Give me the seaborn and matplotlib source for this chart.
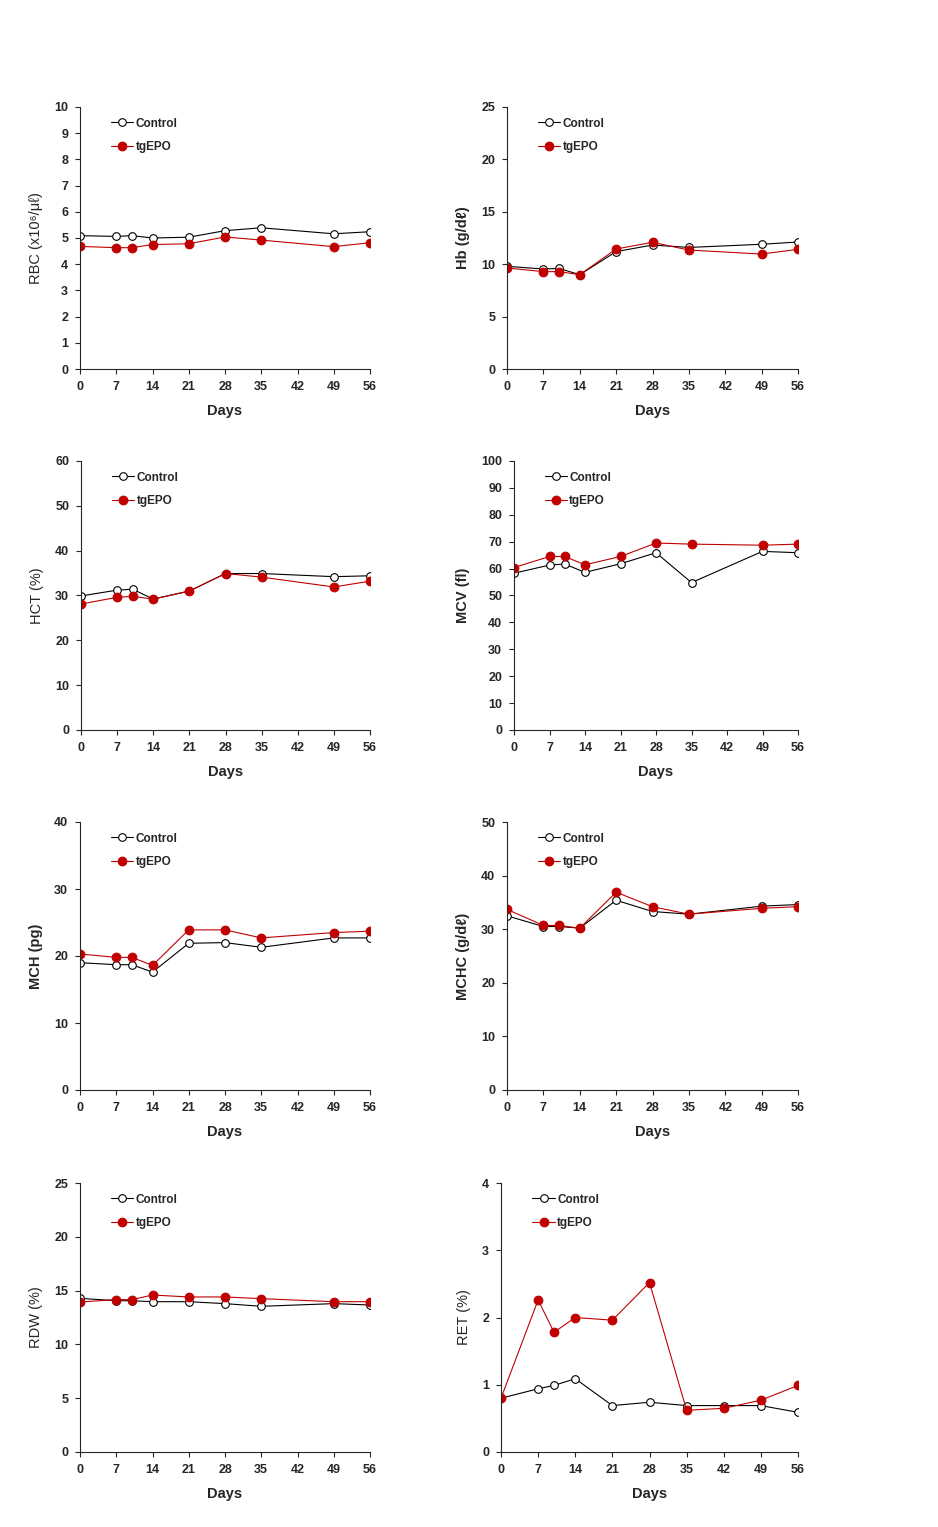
import matplotlib
matplotlib.use('Agg')
import matplotlib.pyplot as plt
import seaborn as sns

sns.set_style('ticks')
plt.rcParams['font.family'] = ['Liberation Sans', 'DejaVu Sans']

days = [0, 7, 10, 14, 21, 28, 35, 49, 56]
days_ret = [0, 7, 10, 14, 21, 28, 35, 42, 49, 56]
day_ticks = [0, 7, 14, 21, 28, 35, 42, 49, 56]

rbc_control = [5.09, 5.06, 5.09, 5.00, 5.03, 5.28, 5.39, 5.16, 5.24]
rbc_tgepo = [4.68, 4.63, 4.63, 4.75, 4.78, 5.04, 4.92, 4.67, 4.82]

hb_control = [9.8, 9.54, 9.6, 9.0, 11.2, 11.83, 11.6, 11.9, 12.12]
hb_tgepo = [9.64, 9.29, 9.29, 9.0, 11.45, 12.09, 11.35, 10.97, 11.42]

hct_control = [29.9, 31.2, 31.4, 29.2, 31.0, 34.9, 34.9, 34.2, 34.4]
hct_tgepo = [28.1, 29.6, 29.8, 29.2, 31.0, 34.9, 34.1, 31.9, 33.2]

mcv_control = [58.3, 61.3, 61.7, 58.6, 61.8, 65.9, 54.8, 66.4, 65.9]
mcv_tgepo = [60.4, 64.5, 64.5, 61.4, 64.5, 69.5, 69.1, 68.7, 69.1]

mch_control = [19.0, 18.7, 18.7, 17.6, 21.9, 22.0, 21.3, 22.7, 22.7]
mch_tgepo = [20.3, 19.8, 19.8, 18.6, 23.9, 23.9, 22.7, 23.5, 23.7]

mchc_control = [32.5, 30.5, 30.5, 30.2, 35.4, 33.3, 32.8, 34.3, 34.6]
mchc_tgepo = [33.7, 30.7, 30.7, 30.2, 36.9, 34.2, 32.8, 33.9, 34.2]

rdw_control = [14.28, 14.06, 14.06, 13.97, 13.97, 13.79, 13.54, 13.79, 13.66]
rdw_tgepo = [13.94, 14.16, 14.16, 14.59, 14.41, 14.41, 14.25, 13.97, 13.97]

ret_control = [0.80, 0.94, 0.99, 1.09, 0.69, 0.74, 0.69, 0.69, 0.69, 0.59]
ret_tgepo = [0.80, 2.26, 1.78, 2.00, 1.96, 2.52, 0.62, 0.65, 0.77, 0.99]

W, H = 938, 1527
red = '#c00000'

fig = plt.figure(figsize=(W / 100, H / 100), dpi=100)


def panel(box, x, ctrl, tg, ylabel, ymax, ystep, label_bold):
    left, top, right, bottom = box
    ax = fig.add_axes([left / W, 1 - bottom / H, (right - left) / W, (bottom - top) / H])
    sns.lineplot(x=x, y=ctrl, ax=ax, color='black', linewidth=0.8, marker='o',
                 markersize=5.5, markerfacecolor='white', markeredgecolor='black',
                 markeredgewidth=0.8, label='Control')
    sns.lineplot(x=x, y=tg, ax=ax, color=red, linewidth=0.8, marker='o',
                 markersize=6.3, markerfacecolor=red, markeredgecolor=red, label='tgEPO')
    ax.set_xlim(0, 56)
    ax.set_ylim(0, ymax)
    ax.set_xticks(day_ticks)
    yt = list(range(0, ymax + 1, ystep))
    ax.set_yticks(yt)
    ax.set_yticklabels([str(v) for v in yt])
    for lab in ax.get_xticklabels() + ax.get_yticklabels():
        lab.set_fontweight('bold')
        lab.set_fontsize(9)
    ax.tick_params(axis='both', length=3.5, width=0.8, pad=5)
    sns.despine(ax=ax)
    for s in ['left', 'bottom']:
        ax.spines[s].set_linewidth(0.8)
    ax.set_xlabel('Days', fontsize=10.5, fontweight='bold', labelpad=8)
    ax.set_ylabel(ylabel, fontsize=10.5, fontweight='bold' if label_bold else 'normal',
                  labelpad=8)
    ax.legend(loc='upper left', bbox_to_anchor=(0.07, 1.0), frameon=False,
              handlelength=1.9, handletextpad=0.2, labelspacing=1.0,
              prop={'weight': 'bold', 'size': 8.5})
    return ax


panel((80, 107, 370, 369), days, rbc_control, rbc_tgepo, 'RBC (x10⁶/μℓ)', 10, 1, False)
panel((507, 107, 798, 369), days, hb_control, hb_tgepo, 'Hb (g/dℓ)', 25, 5, True)
panel((81, 461, 370, 730), days, hct_control, hct_tgepo, 'HCT (%)', 60, 10, False)
panel((514, 461, 798, 730), days, mcv_control, mcv_tgepo, 'MCV (fl)', 100, 10, True)
panel((80, 822, 370, 1090), days, mch_control, mch_tgepo, 'MCH (pg)', 40, 10, True)
panel((507, 822, 798, 1090), days, mchc_control, mchc_tgepo, 'MCHC (g/dℓ)', 50, 10, True)
panel((80, 1183, 370, 1452), days, rdw_control, rdw_tgepo, 'RDW (%)', 25, 5, False)
panel((501, 1183, 798, 1452), days_ret, ret_control, ret_tgepo, 'RET (%)', 4, 1, False)

fig.savefig('out.png', dpi=100)
